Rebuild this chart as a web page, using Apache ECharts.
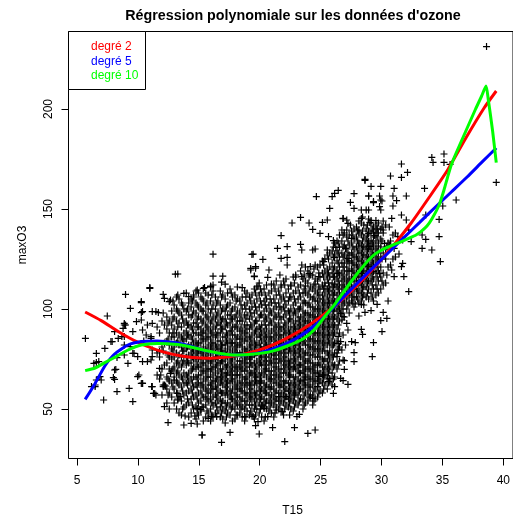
<!DOCTYPE html>
<html>
<head>
<meta charset="utf-8">
<script src="https://cdn.jsdelivr.net/npm/echarts@6/dist/echarts.min.js"></script>
<style>
  html, body { margin: 0; padding: 0; background: #ffffff; }
  #chart { width: 513px; height: 517px; }
</style>
</head>
<body>
<div id="chart"></div>
<script>
// Ozone data: daily max ozone (maxO3) against 15h temperature (T15)

// Cold days, left part of the cloud
const obsCold = [
  [5.7,85.3],[11.0,110.3],[9.0,107.3],[12.1,107.3],[10.3,103.2],[12.6,103.7],[7.5,96.5],[9.4,100.3],
  [10.3,98.2],[11.2,98.7],[11.7,98.2],[8.9,92],[8.8,90.3],[9.9,93.7],[10.4,89.5],[9.6,88.7],[8.1,88.7],
  [7.9,83.7],[7.3,80.3],[8.7,86.2],[8.9,82],[9.4,81.2],[6.6,73.3],[6.4,72.8],[8.3,75.7],[8.9,77],
  [9.6,77.8],[10.0,76.2],[10.4,73.7],[11.1,74.5],[7.0,64.5],[6.5,62],[6.2,61.2],[8.1,64.8],[8.0,65.7],
  [8.3,58.7],[7.2,54.5],[9.6,53.7],[9.3,60.3],[10.0,66.2],[10.3,62.8],[10.4,62.8],[11.2,61.2],[11.5,57],
  [11.4,57.8],[12.1,61.2],[12.3,61.5],[11.8,70.3],[11.9,67],[12.7,67.8],[13.0,64.5],[12.2,51.2],[13.3,57.8],
  [13.5,56.2],[13.3,54.5],[12.5,43.2],[13.8,42],[14.4,42.8],[14.9,42.5],[15.3,37],[13.9,46.5],[14.7,46.5],
  [14.9,50.3],[15.2,49.8],[10.5,84],[11.1,86.2],[11.2,79.5],[11.8,78.7],[12.2,105.3],[12.7,104.5],
  [13.3,107],[13.8,107.8],[14.2,106.2],[14.6,107],[14.9,109.5],[15.4,110.3],[16.0,111.2],[16.2,112],
  [6.6,77.8],[6.8,73.7],[6.5,61.2],[6.6,64.5],[6.9,66.2],[8.2,69.8],[8.1,69.5],[7.8,83.7],[8.4,85.3],
  [9.0,92],[8.9,92.8],[10.3,103.7],[10.4,98.7],[10.3,94.5],[11.5,98.7],[10.1,67],[10.4,62.8],[11.15,61.2],
  [11.3,57.8],[9.7,77.8],[9.2,72.8],[10.8,73.7],[11.2,76.2],[10.7,87],[11.1,85.3],[10.8,92],[11.2,92.8],[8.9,86.2]
];

// Main body of the cloud, column by column: [T15, [maxO3 ...]]
const obsColumnsA = [
  [11.6, [67, 78, 91]],
  [12.0, [57, 70, 81, 94]],
  [12.4, [53, 60, 66, 73, 84, 90, 96]],
  [12.8, [56, 63, 69, 75, 80, 86, 92, 99]],
  [13.2, [50, 58, 64, 68, 73, 78, 83, 88, 94, 100, 106]],
  [13.6, [47, 54, 61, 66, 71, 76, 81, 86, 91, 97, 103]],
  [14.0, [52, 58, 63, 67, 72, 76, 80, 85, 89, 94, 99, 108]],
  [14.4, [48, 55, 60, 65, 69, 73, 78, 82, 86, 91, 96, 101, 105]],
  [14.8, [45, 51, 57, 62, 66, 70, 74, 77, 81, 84, 88, 93, 98, 103, 109]],
  [15.2, [49, 54, 59, 63, 67, 71, 75, 79, 83, 87, 90, 95, 100, 106]],
  [15.6, [46, 52, 56, 60, 64, 68, 72, 76, 80, 84, 88, 92, 97, 102, 108]],
  [16.0, [44, 50, 55, 58, 62, 66, 69, 73, 77, 81, 85, 89, 93, 98, 104, 111]],
  [16.4, [48, 53, 57, 61, 64, 68, 71, 75, 78, 82, 86, 90, 95, 100, 106]],
  [16.8, [46, 51, 55, 59, 63, 66, 70, 73, 77, 80, 84, 88, 92, 96, 102, 109]],
  [17.2, [43, 49, 53, 57, 61, 65, 68, 72, 75, 79, 82, 86, 91, 95, 99, 105]],
  [17.6, [47, 52, 56, 59, 63, 67, 70, 74, 78, 81, 85, 89, 93, 97, 103, 110]],
  [18.0, [45, 50, 54, 58, 62, 65, 69, 72, 76, 80, 83, 87, 91, 96, 101, 107]],
  [18.4, [48, 52, 56, 60, 64, 67, 71, 74, 78, 82, 85, 89, 94, 98, 104]],
  [18.8, [44, 50, 54, 58, 61, 65, 69, 73, 76, 80, 84, 88, 92, 97, 102, 109]],
  [19.2, [47, 52, 56, 60, 63, 67, 71, 75, 78, 82, 86, 90, 95, 100, 106]],
  [19.6, [45, 50, 54, 58, 62, 66, 69, 73, 77, 80, 84, 88, 93, 98, 103, 110]],
  [20.0, [48, 53, 57, 61, 64, 68, 72, 75, 79, 83, 87, 91, 96, 101, 107, 113]],
  [20.4, [44, 51, 55, 59, 63, 67, 70, 74, 78, 81, 85, 89, 94, 99, 104, 110]],
  [20.8, [49, 53, 57, 61, 65, 69, 72, 76, 80, 84, 88, 92, 97, 102, 108]],
  [21.2, [46, 52, 56, 60, 63, 67, 71, 75, 78, 82, 86, 90, 95, 100, 105, 112]],
  [21.6, [50, 54, 58, 62, 66, 70, 73, 77, 81, 85, 89, 93, 98, 103, 109]],
  [22.0, [47, 53, 57, 61, 64, 68, 72, 76, 80, 83, 87, 91, 96, 101, 106, 114]],
  [22.4, [51, 55, 59, 63, 67, 71, 74, 78, 82, 86, 90, 94, 99, 104, 110]],
  [22.8, [49, 54, 58, 62, 66, 70, 73, 77, 81, 85, 89, 93, 97, 102, 108, 116]],
  [23.2, [52, 57, 61, 65, 69, 72, 76, 80, 84, 88, 92, 96, 100, 105, 111]],
  [23.6, [50, 55, 60, 64, 68, 71, 75, 79, 83, 87, 91, 95, 99, 103, 108, 115]],
  [24.0, [54, 59, 63, 67, 71, 74, 78, 82, 86, 90, 94, 98, 102, 107, 113, 119]],
  [24.4, [52, 57, 62, 66, 70, 73, 77, 81, 85, 89, 93, 97, 101, 105, 110, 117]],
  [24.8, [56, 61, 65, 69, 72, 76, 80, 84, 88, 92, 96, 100, 104, 108, 114, 121]],
  [25.2, [58, 63, 67, 71, 75, 79, 83, 87, 91, 95, 99, 103, 107, 112, 118, 124]],
  [25.6, [60, 66, 70, 74, 78, 82, 86, 90, 94, 98, 102, 106, 110, 115, 120, 127]],
  [26.0, [62, 68, 73, 77, 81, 85, 89, 93, 97, 101, 105, 109, 113, 118, 123, 129]],
  [26.4, [70, 78, 84, 90, 95, 99, 103, 107, 111, 115, 119, 124, 129, 134]],
  [26.8, [98, 102, 106, 110, 114, 118, 123, 128, 134]],
  [27.2, [100, 105, 109, 113, 117, 121, 125, 130, 136]],
  [27.6, [104, 108, 112, 116, 120, 124, 128, 133, 139]],
  [28.0, [106, 110, 114, 118, 122, 126, 131, 136, 141]],
  [28.4, [104, 108, 112, 116, 120, 124, 128, 132, 137, 143]],
  [28.8, [106, 111, 115, 119, 123, 127, 131, 135, 140]],
  [29.2, [108, 114, 118, 122, 126, 130, 134, 138, 143]],
  [29.6, [107, 112, 118, 122, 126, 130, 134, 138, 142]],
  [30.0, [110, 116, 121, 126, 131, 135, 140]],
  [30.4, [113, 125, 130, 142]],
  [30.8, [122, 134]],
  [31.2, [126, 138]]
];

// Main body of the cloud, in-between columns
const obsColumnsB = [
  [11.8, [65, 76, 88]],
  [12.2, [62, 72, 83, 92]],
  [12.6, [50, 58, 64, 70, 76, 82, 88, 94]],
  [13.0, [53, 60, 66, 71, 76, 81, 86, 90, 96, 102]],
  [13.4, [48, 56, 62, 67, 72, 77, 82, 87, 93, 98, 105]],
  [13.8, [51, 57, 63, 68, 74, 79, 84, 88, 93, 100]],
  [14.2, [46, 53, 59, 64, 68, 73, 77, 82, 87, 92, 97, 103]],
  [14.6, [50, 56, 61, 66, 71, 75, 79, 83, 88, 93, 99, 106]],
  [15.0, [47, 53, 58, 63, 67, 71, 75, 79, 83, 87, 91, 96, 101, 108]],
  [15.4, [44, 51, 56, 61, 65, 69, 73, 77, 81, 85, 89, 94, 99, 104]],
  [15.8, [48, 54, 58, 62, 66, 70, 74, 78, 82, 86, 90, 95, 100, 107]],
  [16.2, [46, 52, 56, 60, 64, 67, 71, 75, 79, 83, 87, 91, 96, 102, 109]],
  [16.6, [49, 54, 58, 62, 66, 69, 73, 76, 80, 84, 88, 93, 98, 104]],
  [17.0, [45, 50, 54, 58, 62, 66, 70, 74, 78, 82, 86, 90, 95, 100, 107]],
  [17.4, [48, 53, 57, 61, 64, 68, 72, 76, 80, 83, 87, 92, 97, 102, 108]],
  [17.8, [44, 51, 55, 60, 64, 67, 71, 75, 79, 83, 87, 91, 95, 100, 106]],
  [18.2, [47, 52, 56, 60, 63, 67, 70, 74, 78, 82, 86, 90, 94, 99, 105, 111]],
  [18.6, [46, 51, 55, 59, 63, 66, 70, 74, 78, 81, 85, 89, 94, 100, 106]],
  [19.0, [49, 54, 58, 62, 65, 69, 73, 77, 80, 84, 88, 92, 97, 103, 108]],
  [19.4, [47, 52, 56, 60, 64, 68, 72, 76, 79, 83, 87, 91, 96, 101, 107]],
  [19.8, [50, 55, 59, 63, 66, 70, 74, 78, 82, 86, 90, 94, 99, 105, 111]],
  [20.2, [46, 52, 56, 60, 64, 68, 72, 76, 80, 84, 88, 92, 97, 102, 108]],
  [20.6, [50, 54, 58, 62, 66, 70, 74, 78, 82, 86, 90, 95, 100, 105, 112]],
  [21.0, [48, 53, 57, 61, 65, 69, 73, 77, 81, 85, 89, 93, 98, 103, 109]],
  [21.4, [51, 55, 59, 63, 67, 71, 75, 79, 83, 87, 91, 96, 101, 107, 114]],
  [21.8, [49, 54, 58, 62, 66, 70, 74, 78, 82, 86, 90, 95, 100, 105, 111]],
  [22.2, [52, 56, 60, 64, 68, 72, 76, 80, 84, 88, 92, 97, 102, 108, 115]],
  [22.6, [50, 55, 59, 63, 67, 71, 75, 79, 83, 87, 91, 95, 100, 106, 112]],
  [23.0, [53, 58, 62, 66, 70, 74, 78, 82, 86, 90, 94, 98, 103, 109, 116]],
  [23.4, [55, 60, 64, 68, 72, 76, 80, 84, 88, 92, 96, 101, 106, 112, 119]],
  [23.8, [53, 58, 62, 66, 70, 74, 78, 82, 86, 90, 94, 98, 103, 108, 114, 121]],
  [24.2, [56, 61, 65, 69, 73, 77, 81, 85, 89, 93, 97, 101, 106, 111, 117]],
  [24.6, [55, 60, 64, 68, 72, 76, 80, 84, 88, 92, 96, 100, 104, 109, 115, 122]],
  [25.0, [59, 64, 68, 72, 76, 80, 84, 88, 92, 96, 100, 105, 110, 116, 122]],
  [25.4, [62, 67, 71, 75, 79, 83, 87, 91, 95, 99, 103, 108, 113, 119, 125]],
  [25.8, [64, 70, 75, 79, 83, 87, 91, 95, 99, 103, 107, 111, 116, 121, 128]],
  [26.2, [66, 72, 78, 83, 88, 92, 96, 100, 104, 108, 112, 116, 121, 127, 133]],
  [26.6, [74, 81, 88, 94, 100, 104, 108, 112, 117, 121, 126, 131, 137]],
  [27.0, [96, 103, 107, 111, 115, 119, 123, 127, 132, 138]],
  [27.4, [98, 103, 107, 111, 115, 119, 123, 127, 132, 137]],
  [27.8, [101, 106, 110, 114, 118, 122, 126, 130, 135, 140]],
  [28.2, [103, 108, 112, 116, 120, 124, 128, 133, 138, 144]],
  [28.6, [102, 107, 111, 115, 119, 123, 127, 131, 136, 142]],
  [29.0, [105, 110, 114, 118, 122, 126, 130, 134, 139, 145]],
  [29.4, [104, 110, 115, 119, 123, 127, 131, 136, 141]],
  [29.8, [108, 114, 119, 124, 128, 133, 138, 143]],
  [30.2, [112, 118, 128, 138, 144]],
  [30.6, [121, 133]],
  [31.0, [125, 137]]
];

// Main body of the cloud, odd tenths
const obsColumnsC = [
  [12.1, [62, 79, 98]],
  [12.5, [57, 65, 77, 85, 93]],
  [12.9, [61, 70, 79, 88, 95, 104]],
  [13.3, [55, 63, 69, 74, 84, 91, 99]],
  [13.7, [50, 59, 65, 73, 79, 85, 95, 102]],
  [14.1, [55, 62, 66, 74, 81, 87, 92, 100]],
  [14.5, [52, 58, 63, 70, 76, 80, 85, 90, 97, 104]],
  [14.9, [48, 55, 61, 65, 72, 78, 82, 91, 95, 102]],
  [15.3, [51, 57, 62, 69, 73, 78, 85, 88, 93, 99, 105]],
  [15.7, [49, 55, 59, 66, 70, 75, 79, 86, 91, 96, 103]],
  [16.1, [47, 53, 60, 63, 70, 74, 80, 83, 88, 94, 100, 107]],
  [16.5, [51, 56, 60, 65, 72, 76, 81, 87, 92, 97, 103]],
  [16.9, [48, 53, 58, 64, 68, 74, 79, 82, 90, 94, 99, 106]],
  [17.3, [46, 51, 59, 63, 67, 71, 77, 84, 88, 93, 101]],
  [17.7, [50, 55, 58, 65, 69, 73, 76, 83, 89, 95, 99, 108]],
  [18.1, [47, 53, 57, 61, 67, 71, 78, 81, 85, 92, 97, 104]],
  [18.5, [50, 54, 59, 62, 69, 72, 77, 83, 87, 91, 96, 102]],
  [18.9, [46, 52, 57, 63, 66, 71, 75, 79, 86, 90, 95, 100, 106]],
  [19.3, [49, 55, 58, 62, 68, 73, 76, 81, 85, 92, 98, 104]],
  [19.7, [47, 52, 57, 64, 67, 71, 78, 82, 89, 94, 101, 108]],
  [20.1, [50, 55, 59, 63, 66, 73, 77, 81, 86, 90, 97, 104, 110]],
  [20.5, [46, 53, 58, 61, 69, 72, 76, 83, 87, 92, 96, 102, 107]],
  [20.9, [51, 55, 60, 64, 67, 74, 79, 82, 86, 94, 99, 105]],
  [21.3, [48, 54, 58, 65, 69, 73, 77, 84, 88, 92, 97, 103, 110]],
  [21.7, [52, 56, 61, 64, 68, 75, 79, 83, 87, 91, 96, 101, 107]],
  [22.1, [50, 55, 59, 63, 70, 74, 78, 81, 89, 93, 99, 104, 112]],
  [22.5, [53, 57, 61, 66, 69, 73, 80, 85, 88, 95, 98, 106]],
  [22.9, [51, 56, 60, 64, 71, 75, 79, 83, 87, 91, 99, 105, 113]],
  [23.3, [54, 59, 63, 68, 72, 78, 82, 86, 90, 94, 100, 108]],
  [23.7, [52, 57, 62, 66, 69, 73, 77, 84, 89, 93, 97, 104, 110, 117]],
  [24.1, [56, 61, 65, 70, 75, 80, 84, 88, 92, 96, 103, 109, 116]],
  [24.5, [54, 59, 64, 68, 71, 79, 83, 87, 91, 95, 99, 106, 112, 120]],
  [24.9, [58, 63, 67, 73, 78, 82, 86, 90, 94, 98, 102, 107, 111, 118]],
  [25.3, [60, 65, 69, 74, 81, 85, 89, 93, 97, 101, 105, 110, 116, 122]],
  [25.7, [63, 68, 72, 77, 84, 88, 92, 96, 100, 104, 109, 113, 118, 125]],
  [26.1, [65, 71, 76, 82, 87, 91, 95, 99, 103, 107, 111, 116, 120, 126, 131]],
  [26.5, [72, 80, 92, 97, 101, 105, 110, 114, 118, 123, 128, 133]],
  [26.9, [100, 104, 108, 112, 116, 121, 126, 131, 137]],
  [27.3, [102, 107, 111, 114, 119, 124, 128, 134]],
  [27.7, [103, 106, 110, 115, 119, 123, 127, 131, 137]],
  [28.1, [105, 109, 113, 117, 121, 125, 129, 134, 139]],
  [28.5, [106, 110, 114, 118, 122, 126, 130, 134, 139]],
  [28.9, [108, 113, 117, 121, 125, 129, 133, 137, 142]],
  [29.3, [106, 112, 116, 120, 124, 128, 133, 140]],
  [29.7, [110, 116, 121, 125, 129, 136, 140]],
  [30.1, [114, 125, 134, 141]],
  [30.5, [117, 131]]
];

// Low ozone days under the cloud
const obsLow = [
  [15.3,37],[16.9,33.3],[17.6,38.3],[20.0,37.5],[22.1,33.7],[24.0,37.8],[24.6,39.5],[22.9,40.7],[21.1,40.7],
  [19.7,41.7],[18.8,46.2],[16.1,46.2],[16.5,46.2],[15.8,45.3],[19.5,46.2],[19.9,43.7],[20.7,46.2],[20.4,50.3],
  [21.4,49.5],[21.9,48.7],[23.1,46.2],[23.3,47.3],[22.5,47],[20.2,51.5],[20.3,52],[21.6,56.2],[22.2,56.2],
  [22.9,57],[24.2,57],[24.4,55.3],[26.1,57.8],[26.2,61.2],[26.9,64.2],[26.9,74.5],[26.8,79.5],[26.7,83.7],
  [25.7,63.7],[25.8,65.3],[25.3,67],[24.9,66.2],[24.8,61.2],[23.7,64.5],
  [29.7,102.3],[30.6,104],[28.4,102.3],[27.9,102.5],[29.2,99.2],[28.7,98.3],[30.2,98.3],[28.2,96.5],
  [30.0,94.2],[30.5,95.3],[27.2,92.8],[28.4,89.8],[28.5,87.3],[30.1,88.7],[26.9,87],[27.3,89.5],[29.4,83.2],
  [27.6,83.7],[27.9,83.2],[26.5,82.8],[27.1,82],[27.8,78.2],[29.3,76.2],[27.0,74.2],[27.8,73.7],[27.0,69.8],
  [26.7,65.3],[27.3,62.3],[26.4,76.2],[26.5,79.5],[26.5,86.2],[26.7,97.8],[26.9,96.2],[26.8,94.5]
];

// High ozone days above the cloud
const obsHigh = [
  [16.2,127.4],[19.5,127.4],[19.3,119.5],[19.7,120.4],[13.1,117.4],[13.3,117.5],[16.2,116.4],[17.0,116.4],
  [16.9,113.4],[17.2,112.4],[11.0,110.7],[15.5,110.7],[16.0,111.5],[18.6,110.7],[19.6,116.5],
  [28.7,164.3],[29.2,161.3],[30.0,161.3],[26.5,159.3],[26.2,157.8],[27.8,157.7],[29.0,156.5],[24.7,156.2],
  [26.0,156.2],[30.1,154],[27.5,153.3],[29.4,153.2],[25.8,150.3],[27.8,150.3],[28.4,149.5],[28.8,149.5],
  [30.0,149.5],[28.5,146],[23.4,145.8],[26.9,145.2],[27.2,144.5],[22.7,143],[24.1,143],[25.6,144.5],
  [25.2,143.3],[29.2,144.3],[24.4,139.8],[27.5,142],[27.3,142.8],[26.8,139.5],[27.2,139.5],[28.2,139.5],
  [25.0,137.8],[25.7,136.2],[29.0,137.8],[29.5,136.7],[30.2,139.5],[21.8,136.7],[27.6,135.3],[26.1,134.2],
  [21.5,130.3],[22.3,131.2],[23.4,132.3],[23.5,129.5],[19.4,127.3],[20.3,124.8],[21.8,125.3],[22.3,125.8],
  [24.4,129.5],[24.6,130],[25.6,129.5],[26.3,130.8],[27.1,130.3],[28.2,131.5],[29.0,131.5],[29.8,131.5],
  [19.3,120.3],[19.7,121.2],[20.8,119.5],[22.3,122],[23.5,122],[24.2,121.2],[25.3,123.7],[26.2,125.8],
  [27.3,125.3],[19.6,116.2],[20.7,115.8],[21.7,117],[23.0,117],[23.5,116.2],[24.1,117.8],[24.9,116.2],
  [25.6,117],[26.4,117.8],[28.4,117.8],[29.0,121.2],[29.4,118.7],[19.9,111.5],[21.0,112.5],[21.8,112],
  [22.6,111.5],[23.8,111.5],[24.6,112.5],[25.4,111.5],[26.2,112.5],
  [26.9,145.3],[28.4,145.3],[29.1,143.2],[29.6,144.2],[29.1,131.2],[29.4,132]
];

// Hot days, right part of the cloud
const obsHot = [
  [38.7,231.2],[39.5,163.3],[34.2,175.8],[34.3,173.3],[35.2,177.5],[35.2,173.3],[35.7,172.3],[31.7,172.5],
  [32.2,168.3],[30.8,166.5],[31.7,165.8],[28.7,164.8],[31.1,160.3],[33.6,160.3],[29.0,156.5],[29.9,156.5],
  [31.0,156.5],[32.1,156.5],[36.2,154.5],[29.4,153.7],[30.0,154.5],[31.3,154.2],[35.1,151.5],[29.0,149.5],
  [29.9,151.2],[31.0,151.5],[33.7,147],[34.8,144.8],[30.9,145.3],[31.7,147],[32.1,144.5],[33.4,137],
  [33.7,134.8],[34.8,136.2],[33.4,130.3],[34.2,129.5],[34.9,123.7],[32.3,108.7],[30.3,132.8],[30.7,132],
  [31.1,130.3],[31.8,122.8],[31.7,121.2],[31.9,116.2],[31.1,116.2],[29.9,117.8],[32.3,139.5],[32.5,133.7],
  [31.4,136.2],[31.8,134.5],[29.4,139],[29.7,140],[30.9,119.5],[31.5,127.5],[30.7,141]
];

// Fitted polynomial curves of degree 2, 5 and 10: [T15, fitted maxO3]
const fitDeg2 = [
  [5.68,98.5],[7,94.2],[8.5,88.4],[10,83.4],[11.5,79.7],[13,77.2],[14.5,75.8],[16,75.4],[17.5,76.1],
  [19,77.8],[20.5,80.6],[22,84.6],[23.5,89.6],[25,95.8],[26.5,103],[28,111.5],[29.5,121],[31,131.5],
  [32.5,143],[34,156],[35.5,169.5],[37,185.5],[38.5,200.5],[39.5,209]
];
const fitDeg5 = [
  [5.68,54.8],[6.5,62.8],[7.3,71.5],[8.1,77.5],[9.2,82],[10.3,83.7],[11.6,84],[13,83.2],[14.3,81.5],
  [15.5,79.3],[16.8,77.6],[18,77],[19.1,77.2],[20.4,78.7],[21.8,81.5],[23.1,85.5],[24.3,90.5],[25.5,97],
  [26.7,104.5],[28,112.5],[29.3,120.3],[30.6,128],[31.9,135.7],[33.2,143.3],[34.5,151],[35.8,158.5],
  [37.1,166],[38.3,173.3],[39.5,180.5]
];
const fitDeg10 = [
  [5.68,69.2],[6.5,70.5],[7.3,73.2],[8.1,75.8],[9.2,79.5],[10.3,82],[11.6,82.8],[13.3,82.3],[14.4,81],
  [15.4,79.5],[16.8,77.8],[18.2,77],[19.6,77.5],[21,78.8],[22.3,81.5],[23.6,85],[24.5,89.5],[25.5,97],
  [26.3,103],[27,109],[27.6,114],[28.3,119.5],[29,124.5],[29.6,127.8],[30.3,130.2],[31,132],[31.7,133.7],
  [32.3,135.3],[32.9,137],[33.3,138.7],[33.8,141.5],[34.2,145],[34.8,152],[35.2,159.5],[35.5,166],
  [35.8,172],[36.2,178],[37,189],[37.8,200],[38.3,206.5],[38.66,211.5],[38.85,204.5],[39.2,189],[39.5,173.2]
];

// Axis ticks
const xTicks = { min: 5, max: 40, step: 5 };
const yTicks = { min: 50, max: 200, step: 50 };

const FONT = '"Liberation Sans", Arial, Helvetica, sans-serif';

const columnPoints = [];
[].concat(obsColumnsA, obsColumnsB, obsColumnsC)
  .forEach(([t, values]) => values.forEach(v => columnPoints.push([t, v])));
const allObs = [].concat(obsCold, columnPoints, obsLow, obsHigh, obsHot);

// Plot frame: pixel box and the data range it spans
const box = { left: 68.5, top: 31.5, width: 450, height: 427 };
const pxPerT = (507.7 - 77) / 35;
const pxPerO = 2;
const tMin = xTicks.min - (77 - box.left) / pxPerT;
const tMax = tMin + box.width / pxPerT;
const oMax = yTicks.min + (409 - box.top) / pxPerO;
const oMin = oMax - box.height / pxPerO;

const chart = echarts.init(document.getElementById('chart'), null, { renderer: 'canvas' });

// "+" marker with slightly thick bars so that it stays dark
const plusSymbol = 'path://M0,2.9H7V4.1H0Z M2.9,0H4.1V7H2.9Z';

chart.setOption({
  animation: false,
  backgroundColor: '#ffffff',
  grid: [
    { left: box.left, top: box.top, width: box.width, height: box.height, show: true,
      borderColor: '#000', borderWidth: 1, backgroundColor: 'transparent', containLabel: false },
    { left: 77, top: box.top, width: 507.7 - 77, height: box.height, containLabel: false },
    { left: box.left, top: 109, width: box.width, height: 300, containLabel: false }
  ],
  xAxis: [
    { gridIndex: 0, type: 'value', min: tMin, max: tMax, show: false },
    { gridIndex: 1, type: 'value', min: xTicks.min, max: xTicks.max, interval: xTicks.step,
      axisLine: { show: true, lineStyle: { color: '#000', width: 1 } },
      axisTick: { show: true, inside: false, length: 7, lineStyle: { color: '#000', width: 1 } },
      axisLabel: { show: true, margin: 16, color: '#000', fontSize: 12, fontFamily: FONT,
        showMinLabel: true, showMaxLabel: true },
      splitLine: { show: false } },
    { gridIndex: 2, type: 'value', min: 0, max: 1, show: false }
  ],
  yAxis: [
    { gridIndex: 0, type: 'value', min: oMin, max: oMax, show: false },
    { gridIndex: 1, type: 'value', min: 0, max: 1, show: false },
    { gridIndex: 2, type: 'value', min: yTicks.min, max: yTicks.max, interval: yTicks.step,
      axisLine: { show: true, lineStyle: { color: '#000', width: 1 } },
      axisTick: { show: true, inside: false, length: 7, lineStyle: { color: '#000', width: 1 } },
      axisLabel: { show: true, margin: 14, rotate: 90, color: '#000', fontSize: 12, fontFamily: FONT,
        showMinLabel: true, showMaxLabel: true },
      splitLine: { show: false } }
  ],
  series: [
    { name: 'maxO3', type: 'scatter', xAxisIndex: 0, yAxisIndex: 0, data: allObs,
      symbol: plusSymbol, symbolSize: 7, itemStyle: { color: '#000', opacity: 1 },
      emphasis: { disabled: true }, large: false, z: 2 },
    { name: 'degré 2', type: 'line', xAxisIndex: 0, yAxisIndex: 0, data: fitDeg2, showSymbol: false,
      smooth: 0.2, lineStyle: { color: '#ff0000', width: 3 }, z: 3 },
    { name: 'degré 5', type: 'line', xAxisIndex: 0, yAxisIndex: 0, data: fitDeg5, showSymbol: false,
      smooth: 0.2, lineStyle: { color: '#0000ff', width: 3 }, z: 4 },
    { name: 'degré 10', type: 'line', xAxisIndex: 0, yAxisIndex: 0, data: fitDeg10, showSymbol: false,
      smooth: 0.2, lineStyle: { color: '#00ff00', width: 3 }, z: 5 }
  ],
  graphic: [
    { type: 'text', x: 293, y: 16, z: 10,
      style: { text: "Régression polynomiale sur les données d'ozone", align: 'center', verticalAlign: 'middle',
        font: 'bold 14.3px ' + FONT, fill: '#000' } },
    { type: 'text', x: 292.5, y: 511, z: 10,
      style: { text: 'T15', align: 'center', verticalAlign: 'middle', font: '12px ' + FONT, fill: '#000' } },
    { type: 'text', x: 23, y: 245, rotation: Math.PI / 2, z: 10,
      style: { text: 'maxO3', align: 'center', verticalAlign: 'middle', font: '12px ' + FONT, fill: '#000' } },
    { type: 'rect', z: 10, shape: { x: 68.5, y: 31.5, width: 77, height: 58 },
      style: { fill: '#ffffff', stroke: '#000', lineWidth: 1 } },
    { type: 'text', x: 91, y: 47, z: 11,
      style: { text: 'degré 2', align: 'left', verticalAlign: 'middle', font: '12px ' + FONT, fill: '#ff0000' } },
    { type: 'text', x: 91, y: 61.5, z: 11,
      style: { text: 'degré 5', align: 'left', verticalAlign: 'middle', font: '12px ' + FONT, fill: '#0000ff' } },
    { type: 'text', x: 91, y: 76, z: 11,
      style: { text: 'degré 10', align: 'left', verticalAlign: 'middle', font: '12px ' + FONT, fill: '#00ff00' } }
  ]
});
</script>
</body>
</html>
